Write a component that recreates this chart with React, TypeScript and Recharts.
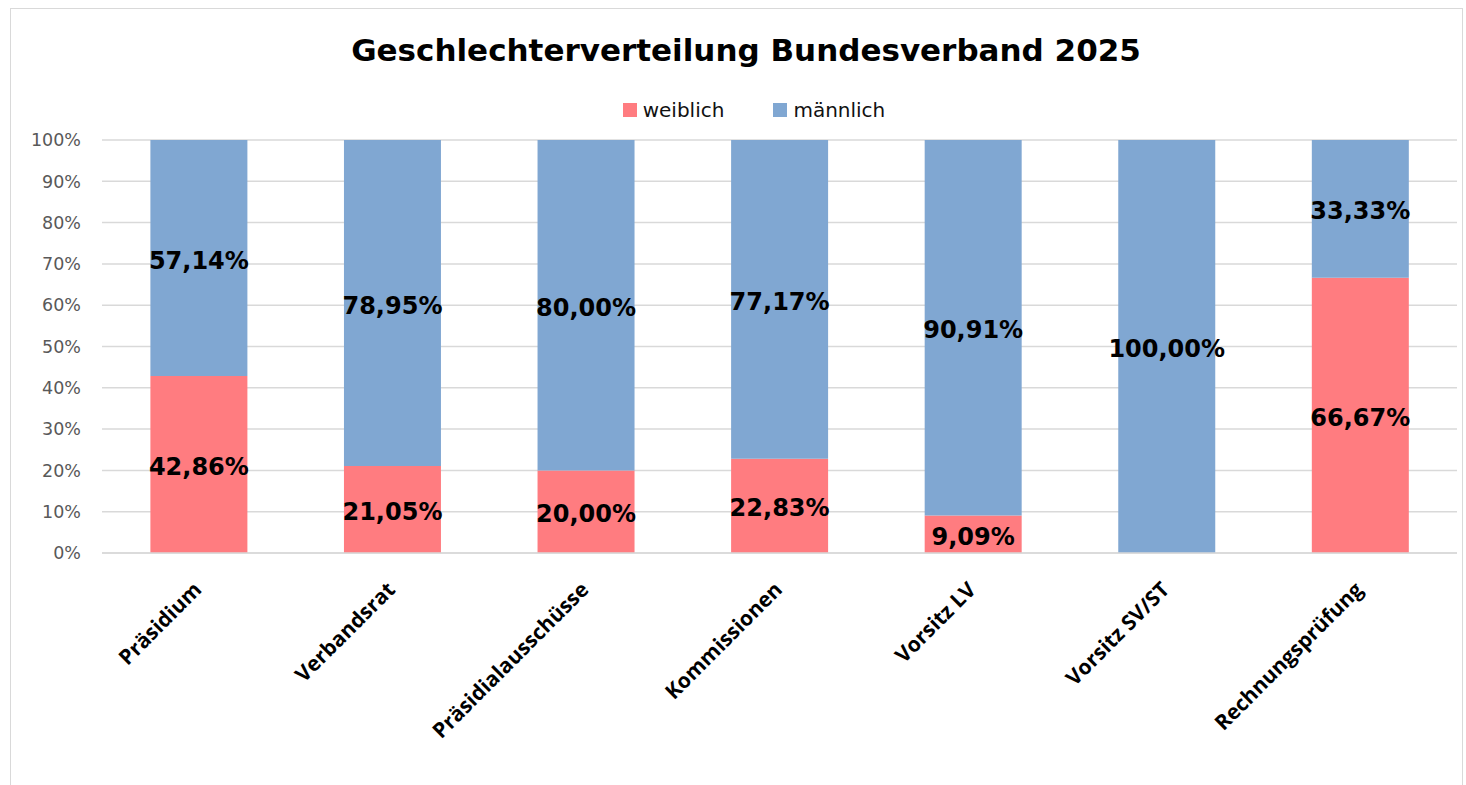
import { BarChart, Bar, XAxis, YAxis, CartesianGrid, Legend, LabelList } from 'recharts'

const categories = ['Präsidium', 'Verbandsrat', 'Präsidialausschüsse', 'Kommissionen', 'Vorsitz LV', 'Vorsitz SV/ST', 'Rechnungsprüfung']
const weiblich = [42.86, 21.05, 20.0, 22.83, 9.09, 0, 66.67]
const maennlich = [57.14, 78.95, 80.0, 77.17, 90.91, 100, 33.33]
const yTicks = [0, 10, 20, 30, 40, 50, 60, 70, 80, 90, 100]

const PINK = '#FF7C80'
const BLUE = '#80A7D2'

const data = categories.map((name, i) => ({
  name,
  weiblich: weiblich[i],
  maennlich: maennlich[i],
}))

const fmt = (v: any) => {
  const n = Number(v)
  if (!n) return ''
  return n.toFixed(2).replace('.', ',') + '%'
}

function XTick(props: any) {
  const { x, y, payload } = props
  const tx = x + 4
  const ty = y + 30
  return (
    <text
      x={tx}
      y={ty}
      transform={`rotate(-45 ${tx} ${ty})`}
      textAnchor="end"
      fontFamily="'Open Sans', sans-serif"
      fontWeight="bold"
      fontSize={21}
      fill="#000"
    >
      {payload.value}
    </text>
  )
}

function LegendBox() {
  const items = [
    { label: 'weiblich', color: PINK },
    { label: 'männlich', color: BLUE },
  ]
  return (
    <div style={{ display: 'flex', justifyContent: 'center', gap: 49, paddingLeft: 42 }}>
      {items.map((it) => (
        <div key={it.label} style={{ display: 'flex', alignItems: 'center', gap: 6 }}>
          <span style={{ width: 14, height: 14, background: it.color, display: 'inline-block' }} />
          <span style={{ fontFamily: "'DejaVu Sans', sans-serif", fontSize: 20, color: '#111' }}>{it.label}</span>
        </div>
      ))}
    </div>
  )
}

const labelStyle = { fontFamily: "'DejaVu Sans', sans-serif", fontWeight: 'bold', fontSize: 24 }

export default function App() {
  return (
    <div style={{ position: 'fixed', left: 0, top: 0, width: 1466, height: 785, background: '#fff' }}>
      <div
        style={{
          position: 'absolute',
          left: 10,
          top: 8,
          width: 1451,
          height: 790,
          border: '1px solid #d9d9d9',
        }}
      />
      <div
        style={{
          position: 'absolute',
          left: 0,
          top: 30,
          width: 1466,
          paddingLeft: 26,
          boxSizing: 'border-box',
          textAlign: 'center',
          fontFamily: "'DejaVu Sans', sans-serif",
          fontWeight: 'bold',
          fontSize: 31,
          lineHeight: '40px',
          color: '#000',
        }}
      >
        Geschlechterverteilung Bundesverband 2025
      </div>
      <BarChart
        width={1466}
        height={785}
        data={data}
        margin={{ top: 140, right: 9, bottom: 12, left: 10 }}
        barCategoryGap="25%"
        style={{ position: 'absolute', left: 0, top: 0 }}
      >
        <CartesianGrid vertical={false} stroke="#d9d9d9" strokeWidth={1.5} />
        <XAxis
          dataKey="name"
          interval={0}
          height={220}
          tickLine={false}
          axisLine={{ stroke: '#d9d9d9', strokeWidth: 1.5 }}
          tick={<XTick />}
        />
        <YAxis
          width={92}
          domain={[0, 100]}
          ticks={yTicks}
          tickFormatter={(v) => `${v}%`}
          axisLine={false}
          tickLine={false}
          tickMargin={15}
          tick={{ fontFamily: "'DejaVu Sans', sans-serif", fontSize: 17.5, fill: '#595959' }}
        />
        <Legend
          layout="horizontal"
          verticalAlign="middle"
          align="center"
          wrapperStyle={{ position: 'absolute', top: 98, left: 0, width: 1466 }}
          content={() => <LegendBox />}
        />
        <Bar dataKey="weiblich" name="weiblich" stackId="a" fill={PINK} isAnimationActive={false}>
          <LabelList dataKey="weiblich" position="center" formatter={fmt} fill="#000" dy={2} style={labelStyle} />
        </Bar>
        <Bar dataKey="maennlich" name="männlich" stackId="a" fill={BLUE} isAnimationActive={false}>
          <LabelList dataKey="maennlich" position="center" formatter={fmt} fill="#000" dy={2} style={labelStyle} />
        </Bar>
      </BarChart>
    </div>
  )
}
